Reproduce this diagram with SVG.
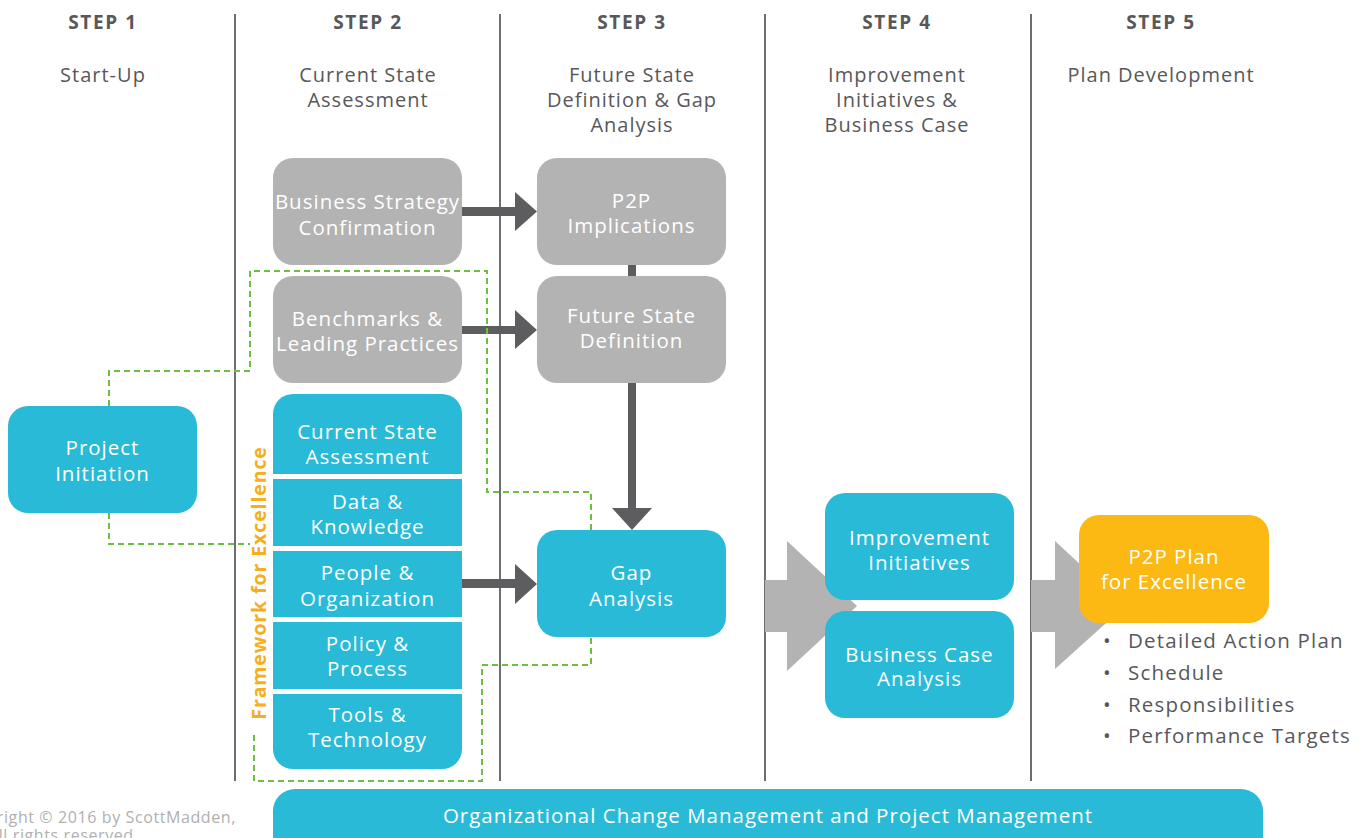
<svg xmlns="http://www.w3.org/2000/svg" width="1366" height="838" viewBox="0 0 1366 838">
  <style>
    .sep { stroke: #6d6e70; stroke-width: 2; }
    .step { font-family: "Open Sans", "Liberation Sans", sans-serif; font-weight: 700; font-size: 19px; letter-spacing: 1.6px; fill: #58585a; text-anchor: middle; }
    .sub { font-family: "Open Sans", "Liberation Sans", sans-serif; font-size: 20px; letter-spacing: 1px; fill: #58585a; text-anchor: middle; }
    .teal { fill: #29bad7; }
    .grey { fill: #b3b3b3; }
    .gold { fill: #fcb913; }
    .lbl { font-family: "Open Sans", "Liberation Sans", sans-serif; font-size: 20.5px; letter-spacing: 1px; fill: #ffffff; text-anchor: middle; }
    .dark { fill: #5d5d5f; }
    .bigarrow { fill: #b3b3b3; }
    .dash { fill: none; stroke: #6dbe45; stroke-width: 2; stroke-dasharray: 6 4; }
    .frame { font-family: "Open Sans", "Liberation Sans", sans-serif; font-weight: 700; font-size: 19.5px; letter-spacing: 0.9px; fill: #f6ae1c; text-anchor: middle; }
    .bullet { font-family: "Open Sans", "Liberation Sans", sans-serif; font-size: 20.5px; letter-spacing: 1.2px; fill: #58585a; }
    .copy { font-family: "Open Sans", "Liberation Sans", sans-serif; font-size: 16px; letter-spacing: 0.6px; fill: #b0b0b0; }
  </style>

  <rect width="1366" height="838" fill="#ffffff"/>

  <!-- column separators -->
  <g id="separators">
    <line class="sep" x1="235" y1="14" x2="235" y2="781"/>
    <line class="sep" x1="500" y1="14" x2="500" y2="781"/>
    <line class="sep" x1="765" y1="14" x2="765" y2="781"/>
    <line class="sep" x1="1031" y1="14" x2="1031" y2="781"/>
  </g>

  <!-- column headers -->
  <g id="headers">
    <text class="step" x="103" y="29">STEP 1</text>
    <text class="step" x="368" y="29">STEP 2</text>
    <text class="step" x="632" y="29">STEP 3</text>
    <text class="step" x="897" y="29">STEP 4</text>
    <text class="step" x="1161" y="29">STEP 5</text>
    <text class="sub" x="103" y="82">Start-Up</text>
    <text class="sub" y="82"><tspan x="368">Current State</tspan><tspan x="368" dy="25">Assessment</tspan></text>
    <text class="sub" y="82"><tspan x="632">Future State</tspan><tspan x="632" dy="25">Definition &amp; Gap</tspan><tspan x="632" dy="25">Analysis</tspan></text>
    <text class="sub" y="82"><tspan x="897">Improvement</tspan><tspan x="897" dy="25">Initiatives &amp;</tspan><tspan x="897" dy="25">Business Case</tspan></text>
    <text class="sub" x="1161" y="82">Plan Development</text>
  </g>

  <!-- connectors -->
  <g id="connectors">
    <!-- broad flow arrows into steps 4 and 5 -->
    <path class="bigarrow" d="M765,580 H787 V541 L857,606 L787,671 V632 H765 Z"/>
    <path class="bigarrow" d="M1031,580 H1055 V541 L1125,606 L1055,669 V632 H1031 Z"/>
    <!-- Business Strategy -> P2P Implications -->
    <path class="dark" d="M462,207 H515 V192 L537,211.5 L515,231 V216 H462 Z"/>
    <!-- Benchmarks -> Future State Definition -->
    <path class="dark" d="M462,326 H515 V310 L537,330 L515,349 V334 H462 Z"/>
    <!-- People & Organization -> Gap Analysis -->
    <path class="dark" d="M462,579 H515 V564 L537,584 L515,604 V588 H462 Z"/>
    <!-- P2P Implications to Future State Definition -->
    <rect class="dark" x="628" y="264" width="8" height="13"/>
    <!-- Future State Definition -> Gap Analysis -->
    <path class="dark" d="M628,383 H636 V508 H652 L632,530 L612,508 H628 Z"/>
    <!-- dashed framework links -->
    <path class="dash" d="M109,406 V371 H250 V271 H487 V492 H591 V530"/>
    <path class="dash" d="M109,513 V544 H250"/>
    <path class="dash" d="M254,735 V781 H482 V665 H591 V637"/>
  </g>

  <!-- Step 1 -->
  <g id="project-initiation">
    <rect class="teal" x="8" y="406" width="189" height="107" rx="20"/>
    <text class="lbl" y="455"><tspan x="102.5">Project</tspan><tspan x="102.5" dy="26">Initiation</tspan></text>
  </g>

  <!-- Step 2 -->
  <g id="business-strategy">
    <rect class="grey" x="273" y="158" width="189" height="107" rx="20"/>
    <text class="lbl" y="209"><tspan x="367.5">Business Strategy</tspan><tspan x="367.5" dy="26">Confirmation</tspan></text>
  </g>
  <g id="benchmarks">
    <rect class="grey" x="273" y="276" width="189" height="107" rx="20"/>
    <text class="lbl" y="326"><tspan x="367.5">Benchmarks &amp;</tspan><tspan x="367.5" dy="25">Leading Practices</tspan></text>
  </g>
  <g id="current-state-assessment">
    <path class="teal" d="M273,474 V414 A20,20 0 0 1 293,394 H442 A20,20 0 0 1 462,414 V474 Z"/>
    <text class="lbl" y="439"><tspan x="367.5">Current State</tspan><tspan x="367.5" dy="25">Assessment</tspan></text>
  </g>
  <g id="data-knowledge">
    <rect class="teal" x="273" y="479" width="189" height="67"/>
    <text class="lbl" y="509"><tspan x="367.5">Data &amp;</tspan><tspan x="367.5" dy="25">Knowledge</tspan></text>
  </g>
  <g id="people-organization">
    <rect class="teal" x="273" y="551" width="189" height="66"/>
    <text class="lbl" y="580"><tspan x="367.5">People &amp;</tspan><tspan x="367.5" dy="26">Organization</tspan></text>
  </g>
  <g id="policy-process">
    <rect class="teal" x="273" y="622" width="189" height="67"/>
    <text class="lbl" y="651"><tspan x="367.5">Policy &amp;</tspan><tspan x="367.5" dy="25">Process</tspan></text>
  </g>
  <g id="tools-technology">
    <path class="teal" d="M273,694 H462 V749 A20,20 0 0 1 442,769 H293 A20,20 0 0 1 273,749 Z"/>
    <text class="lbl" y="722"><tspan x="367.5">Tools &amp;</tspan><tspan x="367.5" dy="25">Technology</tspan></text>
  </g>
  <g id="framework-label">
    <text class="frame" transform="translate(266,583) rotate(-90)">Framework for Excellence</text>
  </g>

  <!-- Step 3 -->
  <g id="p2p-implications">
    <rect class="grey" x="537" y="158" width="189" height="107" rx="20"/>
    <text class="lbl" y="208"><tspan x="631.5">P2P</tspan><tspan x="631.5" dy="25">Implications</tspan></text>
  </g>
  <g id="future-state-definition">
    <rect class="grey" x="537" y="276" width="189" height="107" rx="20"/>
    <text class="lbl" y="323"><tspan x="631.5">Future State</tspan><tspan x="631.5" dy="25">Definition</tspan></text>
  </g>
  <g id="gap-analysis">
    <rect class="teal" x="537" y="530" width="189" height="107" rx="20"/>
    <text class="lbl" y="580"><tspan x="631.5">Gap</tspan><tspan x="631.5" dy="26">Analysis</tspan></text>
  </g>

  <!-- Step 4 -->
  <g id="improvement-initiatives">
    <rect class="teal" x="825" y="493" width="189" height="107" rx="20"/>
    <text class="lbl" y="545"><tspan x="919.5">Improvement</tspan><tspan x="919.5" dy="25">Initiatives</tspan></text>
  </g>
  <g id="business-case">
    <rect class="teal" x="825" y="611" width="189" height="107" rx="20"/>
    <text class="lbl" y="662"><tspan x="919.5">Business Case</tspan><tspan x="919.5" dy="24">Analysis</tspan></text>
  </g>

  <!-- Step 5 -->
  <g id="p2p-plan">
    <rect class="gold" x="1079" y="515" width="190" height="108" rx="20"/>
    <text class="lbl" y="564"><tspan x="1174">P2P Plan</tspan><tspan x="1174" dy="25">for Excellence</tspan></text>
  </g>
  <g id="plan-contents">
    <text class="bullet" y="648">
      <tspan x="1103">•</tspan><tspan x="1128">Detailed Action Plan</tspan>
      <tspan x="1103" dy="32">•</tspan><tspan x="1128">Schedule</tspan>
      <tspan x="1103" dy="32">•</tspan><tspan x="1128">Responsibilities</tspan>
      <tspan x="1103" dy="31">•</tspan><tspan x="1128">Performance Targets</tspan>
    </text>
  </g>

  <!-- cross-phase bar -->
  <g id="change-management">
    <rect class="teal" x="273" y="789" width="990" height="80" rx="22"/>
    <text class="lbl" x="768" y="823">Organizational Change Management and Project Management</text>
  </g>

  <!-- footer -->
  <g id="copyright">
    <text class="copy" y="823"><tspan x="236" text-anchor="end">Copyright © 2016 by ScottMadden,</tspan><tspan x="-12" dy="18">All rights reserved.</tspan></text>
  </g>
</svg>
